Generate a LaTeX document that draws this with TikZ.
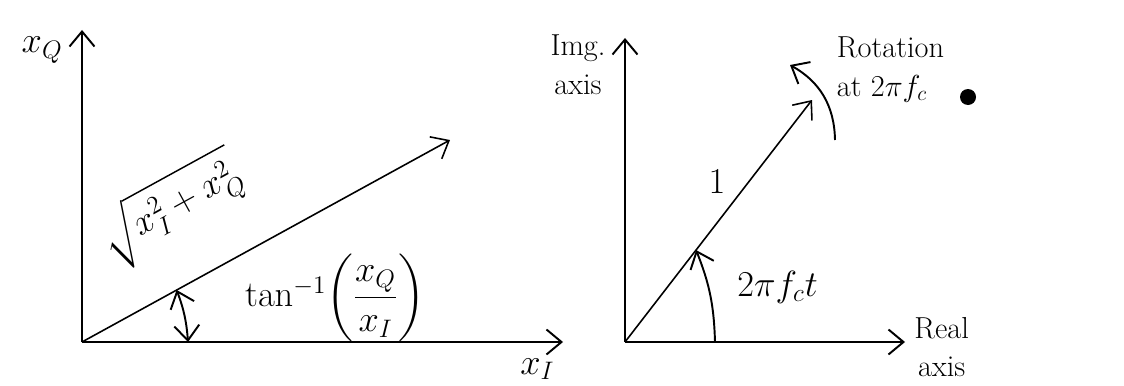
\documentclass[tikz,border=0pt]{standalone}
\usepackage{amsmath,amssymb}
\usetikzlibrary{arrows.meta,calc,positioning}

\begin{document}
\begin{tikzpicture}[font=\LARGE,line width=1.1pt,>={Straight Barb[length=3mm,width=5mm]},
    every node/.style={align=center,inner sep=2pt},
    lbl/.style={font=\huge}]
    \useasboundingbox (0,0) rectangle (22.48,7.7);
    \clip (0,0) rectangle (22.48,7.7);
    % left: I/Q plane
    \coordinate (o1) at (1.64,0.86);
    \coordinate (q1) at (1.64,7.1);
    \coordinate (i1) at (11.26,0.86);
    \coordinate (v1) at (9.0,4.9);
    \draw[->] (o1)--(q1); \draw[->] (o1)--(i1); \draw[->,line width=0.9pt] (o1)--(v1);
    \node[lbl,left=3mm of q1,yshift=-4mm] (xq) {$x_Q$};
    \node[lbl,anchor=south] (xi) at (10.75,0.02) {$x_I$};
    \path (o1)--(v1) node[lbl,pos=0.34,sloped,above=7mm] (mag) {$\sqrt{x_I^2+x_Q^2}$};
    \coordinate (a1) at ($(o1)+(2.12,0)$);
    \coordinate (b1) at ($(o1)+(28.8:2.16)$);
    \draw[<->] (a1) to[bend right=8] (b1);
    \node[lbl] (ph) at (6.7,1.75) {$\tan^{-1}\!\left(\dfrac{x_Q}{x_I}\right)$};
    % right: rotating phasor
    \coordinate (o2) at (12.5,0.86);
    \coordinate (im) at (12.5,6.94);
    \coordinate (re) at (18.1,0.86);
    \coordinate (v2) at (16.24,5.7);
    \draw[->] (o2)--(im); \draw[->] (o2)--(re); \draw[->,line width=0.9pt] (o2)--(v2);
    \node[anchor=north east,yshift=0.15cm,xshift=-3mm] (imlbl) at (im) {Img.\\axis};
    \node[right=1mm of re,yshift=-1mm] (relbl) {Real\\axis};
    \path (o2)--(v2) node[lbl,pos=0.58,above left=1mm] (one) {$1$};
    \coordinate (a2) at ($(o2)+(1.8,0)$);
    \coordinate (b2) at ($(o2)!0.38!(v2)$);
    \draw[->] (a2) to[bend right=10] (b2);
    \node[lbl] (wt) at (15.55,1.96) {$2\pi f_c t$};
    \coordinate (r1) at (16.7,4.9);
    \coordinate (r2) at (15.8,6.4);
    \draw[->] (r1) to[bend right=30] (r2);
    \node[anchor=north west,align=left] (rot) at (16.65,7.05) {Rotation\\at $2\pi f_c$};
    \fill (19.36,5.76) circle (0.16);
\end{tikzpicture}
\end{document}
